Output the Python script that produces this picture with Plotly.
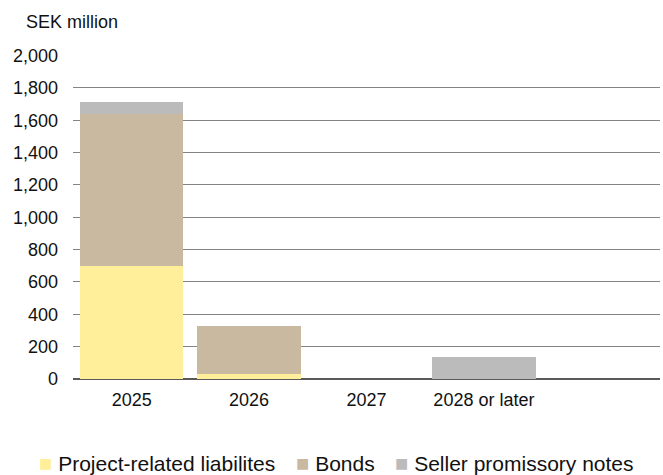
import plotly.graph_objects as go

categories = ["2025", "2026", "2027", "2028 or later"]
project_related = [700, 30, 0, 0]
bonds = [940, 300, 0, 0]
seller_notes = [75, 0, 0, 135]
y_ticks = list(range(0, 2001, 200))

series_names = ["Project-related liabilites", "Bonds", "Seller promissory notes"]
series_colors = ["#FFEF9A", "#C9B9A0", "#BBBBBB"]
series_values = [project_related, bonds, seller_notes]

FONT = "Liberation Sans, Arial, sans-serif"

# plot area geometry (pixels)
W, H = 663, 475
ML, MR, MT, MB = 73, 3, 55, 96
PW, PH = W - ML - MR, H - MT - MB

def px_x(px):
    return (px - ML) / PW

def px_y(py):
    return (H - MB - py) / PH

fig = go.Figure()
for name, color, vals in zip(series_names, series_colors, series_values):
    fig.add_trace(go.Bar(x=categories, y=vals, name=name, showlegend=False,
                         marker=dict(color=color, line=dict(width=0))))

# legend drawn as text: colored square + label
legend_left_px = [36.5, 294, 392.5]
annotations = [dict(text="SEK million", xref="paper", yref="paper",
                    x=px_x(24), y=px_y(22), xanchor="left", yanchor="middle",
                    showarrow=False, font=dict(size=18))]
for name, color, lx in zip(series_names, series_colors, legend_left_px):
    annotations.append(dict(
        text=f'<span style="color:{color};font-size:22px">■</span> {name}',
        xref="paper", yref="paper", x=px_x(lx), y=px_y(463),
        xanchor="left", yanchor="middle", showarrow=False,
        font=dict(size=21)))

fig.update_layout(
    width=W, height=H,
    barmode="stack", bargap=0.12,
    paper_bgcolor="white", plot_bgcolor="white",
    margin=dict(l=ML, r=MR, t=MT, b=MB, autoexpand=False),
    font=dict(family=FONT, size=18, color="#111111"),
    showlegend=False,
    xaxis=dict(type="category", range=[-0.5, 4.5], showgrid=False, ticks="",
               showline=False, ticklabelstandoff=8, tickfont=dict(size=18)),
    yaxis=dict(range=[0, 2003], tickvals=y_ticks, tickformat=",", showgrid=True,
               gridcolor="#848484", gridwidth=1, zeroline=True,
               zerolinecolor="#595959", zerolinewidth=1.5, ticks="",
               ticklabelstandoff=14, tickfont=dict(size=18)),
    annotations=annotations,
)

fig.write_html("out.html")
